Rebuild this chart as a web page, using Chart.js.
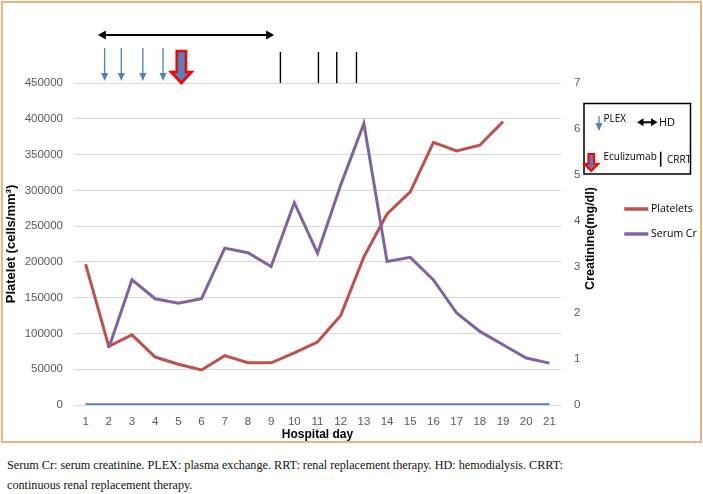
<!DOCTYPE html>
<html><head><meta charset="utf-8">
<script src="https://cdn.jsdelivr.net/npm/chart.js@4/dist/chart.umd.min.js"></script>
<style>
html,body{margin:0;padding:0;background:#fff;}
#wrap{position:relative;width:703px;height:494px;overflow:hidden;background:#fff;}
#c{position:absolute;left:0;top:0;}
#frame{position:absolute;left:1px;top:1px;width:697px;height:438px;border:2px solid #F4B183;pointer-events:none;}
#cap{position:absolute;left:7px;top:455px;font-family:"Liberation Serif","Times New Roman",serif;font-size:12.2px;line-height:20px;color:#111;white-space:nowrap;}
</style></head><body>
<div id="wrap">
<canvas id="c" width="703" height="445"></canvas>
<div id="frame"></div>
<div id="cap">Serum Cr: serum creatinine. PLEX: plasma exchange. RRT: renal replacement therapy. HD: hemodialysis. CRRT:<br>continuous renal replacement therapy.</div>
</div>
<script>
// ---- data ----
const days = ['1','2','3','4','5','6','7','8','9','10','11','12','13','14','15','16','17','18','19','20','21'];
const platelets = [197000, 82000, 98000, 67000, 57000, 49000, 69000, 59000, 59000, 73000, 88000, 125000, 207000, 267000, 298000, 367000, 355000, 363000, 396000, null, null];
const serumCr = [null, 1.24, 2.72, 2.31, 2.21, 2.31, 3.41, 3.31, 3.01, 4.40, 3.30, 4.78, 6.12, 3.12, 3.21, 2.72, 2.00, 1.60, 1.31, 1.02, 0.91];
const baseline = [0, 0, 0, 0, 0, 0, 0, 0, 0, 0, 0, 0, 0, 0, 0, 0, 0, 0, 0, 0, 0];
// treatment annotations (hospital day positions)
const plexDays = [1.82, 2.54, 3.47, 4.34];
const eculizumabDays = [5.13];
const hdRange = [1.53, 9.13];
const crrtDays = [9.40, 11.04, 11.83, 12.68];
// axis ranges
const plateletAxis = {min: 0, max: 450000, step: 50000};
const creatinineAxis = {min: 0, max: 7, step: 1};

const BLUE = '#4F81BD', RED = '#C0504D', PURPLE = '#8064A2';
const SANS = '"Liberation Sans", Arial, sans-serif';
const LEG = '"Open Sans", "Liberation Sans", sans-serif';

function thinArrow(ctx, x, y1, y2, color) {
  ctx.strokeStyle = color; ctx.fillStyle = color; ctx.lineWidth = 1.3;
  ctx.beginPath(); ctx.moveTo(x, y1); ctx.lineTo(x, y2 - 7); ctx.stroke();
  ctx.beginPath(); ctx.moveTo(x - 3.5, y2 - 8); ctx.lineTo(x + 3.5, y2 - 8); ctx.lineTo(x, y2); ctx.closePath(); ctx.fill();
}
function blockArrow(ctx, x, y1, y2, sw, hw, hl, lw) {
  const yh = y2 - hl;
  ctx.beginPath();
  ctx.moveTo(x - sw, y1); ctx.lineTo(x + sw, y1); ctx.lineTo(x + sw, yh); ctx.lineTo(x + hw, yh);
  ctx.lineTo(x, y2); ctx.lineTo(x - hw, yh); ctx.lineTo(x - sw, yh); ctx.closePath();
  ctx.fillStyle = BLUE; ctx.fill();
  ctx.strokeStyle = '#FF0000'; ctx.lineWidth = lw; ctx.lineJoin = 'miter'; ctx.stroke();
}
function doubleArrow(ctx, x1, x2, y, lw, hl, hh) {
  ctx.strokeStyle = '#000'; ctx.fillStyle = '#000'; ctx.lineWidth = lw;
  ctx.beginPath(); ctx.moveTo(x1 + hl - 1, y); ctx.lineTo(x2 - hl + 1, y); ctx.stroke();
  ctx.beginPath(); ctx.moveTo(x1, y); ctx.lineTo(x1 + hl, y - hh); ctx.lineTo(x1 + hl, y + hh); ctx.closePath(); ctx.fill();
  ctx.beginPath(); ctx.moveTo(x2, y); ctx.lineTo(x2 - hl, y - hh); ctx.lineTo(x2 - hl, y + hh); ctx.closePath(); ctx.fill();
}
function vline(ctx, x1, y1, x2, y2, lw) {
  ctx.strokeStyle = '#000'; ctx.lineWidth = lw;
  ctx.beginPath(); ctx.moveTo(x1, y1); ctx.lineTo(x2, y2); ctx.stroke();
}

const annotations = {
  id: 'annotations',
  afterDatasetsDraw(chart) {
    const {ctx, chartArea: {top}, scales: {x}} = chart;
    const px = d => x.getPixelForValue(d - 1);
    ctx.save();
    doubleArrow(ctx, px(hdRange[0]), px(hdRange[1]), top - 48, 2, 8, 4.5);
    plexDays.forEach(d => thinArrow(ctx, px(d), top - 35, top - 2, BLUE));
    eculizumabDays.forEach(d => blockArrow(ctx, px(d), top - 32, top, 4.6, 10.3, 11, 2.6));
    crrtDays.forEach(d => vline(ctx, px(d), top - 31, px(d), top, 1.4));
    ctx.restore();
  },
  afterDraw(chart) {
    const {ctx} = chart;
    ctx.save();
    // treatment key box
    ctx.strokeStyle = '#000'; ctx.lineWidth = 1.5;
    ctx.strokeRect(584, 103.5, 106.5, 70.5);
    thinArrow(ctx, 599, 116, 131, BLUE);
    ctx.fillStyle = '#000'; ctx.textBaseline = 'middle'; ctx.textAlign = 'left';
    ctx.font = '10px ' + LEG; ctx.fillText('PLEX', 603.5, 119.5);
    doubleArrow(ctx, 637, 657.5, 122.3, 2, 6.5, 4);
    ctx.fillStyle = '#000'; ctx.font = '11px ' + LEG; ctx.fillText('HD', 659, 123);
    blockArrow(ctx, 591.3, 154, 171, 2.8, 6.8, 7, 2.2);
    ctx.fillStyle = '#000'; ctx.font = '10px ' + LEG; ctx.fillText('Eculizumab', 603.5, 157);
    vline(ctx, 660.7, 151.7, 660.7, 166.7, 1.5);
    ctx.fillStyle = '#000'; ctx.font = '10px ' + LEG; ctx.fillText('CRRT', 667, 160);
    // series legend
    const items = chart.data.datasets.filter(d => d.showInKey);
    items.forEach((d, i) => {
      const y = 209 + i * 25;
      ctx.strokeStyle = d.borderColor; ctx.lineWidth = 3.5;
      ctx.beginPath(); ctx.moveTo(624.3, y); ctx.lineTo(648.3, y); ctx.stroke();
      ctx.fillStyle = '#000'; ctx.font = '10.5px ' + LEG; ctx.textBaseline = 'middle';
      ctx.fillText(d.label, 651, y + 0.5);
    });
    // right axis title (reads bottom-to-top)
    ctx.translate(590.7, 238.5); ctx.rotate(-Math.PI / 2);
    ctx.textAlign = 'center'; ctx.font = 'bold 12.5px ' + SANS; ctx.fillStyle = '#000';
    ctx.fillText('Creatinine(mg/dl)', 0, 0);
    ctx.restore();
  }
};

new Chart(document.getElementById('c'), {
  type: 'line',
  data: {
    labels: days,
    datasets: [
      {label: 'Platelets', data: platelets, borderColor: RED, backgroundColor: RED, borderWidth: 3, yAxisID: 'y', order: 2, showInKey: true},
      {label: 'Serum Cr', data: serumCr, borderColor: PURPLE, backgroundColor: PURPLE, borderWidth: 3, yAxisID: 'y1', order: 1, showInKey: true},
      {label: 'baseline', data: baseline, borderColor: BLUE, backgroundColor: BLUE, borderWidth: 3.5, yAxisID: 'y', order: 3, showInKey: false}
    ]
  },
  options: {
    responsive: false,
    animation: false,
    devicePixelRatio: 1,
    elements: {point: {radius: 0, hoverRadius: 0}, line: {tension: 0, borderCapStyle: 'butt', borderJoinStyle: 'miter'}},
    layout: {padding: {top: 83, left: 0, right: 102, bottom: 3}},
    plugins: {legend: {display: false}, tooltip: {enabled: false}},
    scales: {
      x: {
        type: 'category', offset: true,
        grid: {display: false, drawTicks: false},
        border: {display: false},
        ticks: {color: '#595959', font: {family: SANS, size: 11.5}, padding: 10, maxRotation: 0, autoSkip: false},
        title: {display: true, text: 'Hospital day', color: '#000', font: {family: SANS, size: 12, weight: 'bold'}, padding: {top: 0, bottom: 0}},
        afterFit(s) { s.height = 37; }
      },
      y: {
        position: 'left', min: plateletAxis.min, max: plateletAxis.max,
        grid: {color: '#D9D9D9', lineWidth: 1, drawTicks: false},
        border: {display: false},
        ticks: {stepSize: plateletAxis.step, color: '#595959', font: {family: SANS, size: 11.5}, padding: 11, callback: v => String(v)},
        title: {display: true, text: 'Platelet (cells/mm³)', color: '#000', font: {family: SANS, size: 13, weight: 'bold'}, padding: {top: 4, bottom: 0}},
        afterFit(s) { s.width = 74; }
      },
      y1: {
        position: 'right', min: creatinineAxis.min, max: creatinineAxis.max,
        grid: {display: false, drawTicks: false},
        border: {display: false},
        ticks: {stepSize: creatinineAxis.step, color: '#595959', font: {family: SANS, size: 11.5}, padding: 13, callback: v => String(v)},
        afterFit(s) { s.width = 40; }
      }
    }
  },
  plugins: [annotations]
});
</script>
</body></html>
